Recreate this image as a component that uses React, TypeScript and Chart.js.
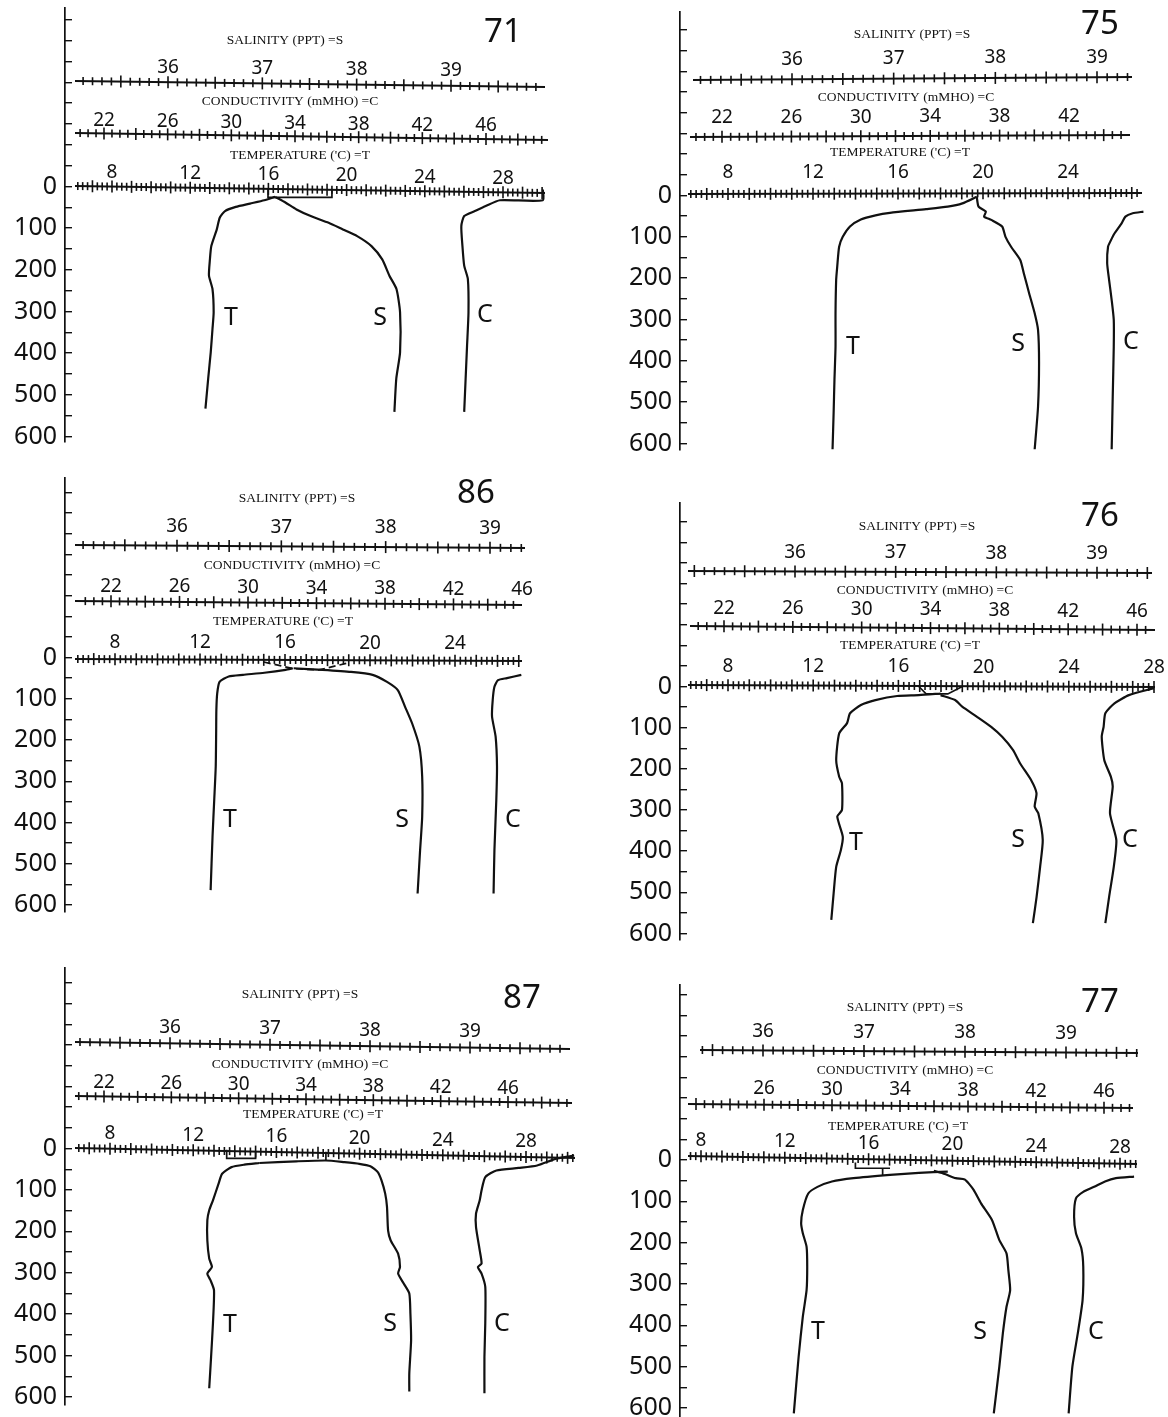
import React, { useEffect, useRef } from "react";
import { Chart, registerables } from "chart.js";
Chart.register(...registerables);

type Pt = [number, number];

// ===== DATA: each point is [value on its scale, depth] =====
// Station 71
const P71_T: Pt[] = [[16.34,25],[15.79,33],[15.06,41],[14.33,49],[13.78,59],[13.51,75],[13.36,103],[13.08,143],[13.01,174],[12.96,214],[13.14,246],[13.2,302],[13.14,342],[13.05,398],[12.92,461],[12.78,533]];
const P71_T_SURF: Pt[] = [[15.98,6],[15.98,26],[19.25,26],[19.25,6]];
const P71_S: Pt[] = [[37.135,25],[37.248,39],[37.362,55],[37.513,71],[37.703,87],[37.854,103],[38.005,119],[38.157,143],[38.271,175],[38.347,214],[38.422,246],[38.46,302],[38.46,398],[38.42,461],[38.4,541]];
const P71_C: Pt[] = [[49.57,7],[49.57,33],[46.87,33],[45.98,47],[45.3,59],[44.63,71],[44.45,95],[44.52,143],[44.63,190],[44.86,222],[44.9,302],[44.81,382],[44.63,541]];
// Station 75
const P75_T: Pt[] = [[19.71,3],[19.03,19],[18.34,27],[17.32,33],[15.62,42],[14.94,48],[14.25,58],[13.74,75],[13.4,100],[13.23,124],[13.14,172],[13.09,204],[13.06,285],[13.06,366],[13.01,446],[12.97,527],[12.92,614]];
const P75_S: Pt[] = [[37.817,3],[37.835,27],[37.907,39],[37.889,51],[37.96,59],[38.067,75],[38.1,100],[38.155,124],[38.245,156],[38.28,188],[38.333,237],[38.387,285],[38.42,325],[38.43,406],[38.42,511],[38.387,614]];
const P75_C: Pt[] = [[46.29,39],[45.67,43],[45.25,51],[45.04,67],[44.62,92],[44.42,108],[44.25,124],[44.2,164],[44.31,204],[44.46,253],[44.58,301],[44.58,366],[44.52,487],[44.46,614]];
// Station 86
const P86_T: Pt[] = [[16.37,26],[16.03,30],[15.03,37],[14.02,42],[13.35,46],[12.92,59],[12.81,87],[12.77,127],[12.76,184],[12.74,265],[12.67,345],[12.59,434],[12.5,564]];
const P86_T_SURF: Pt[] = [[15.0,11],[16.4,27],[17.6,30],[18.9,14]];
const P86_S: Pt[] = [[37.118,26],[37.393,30],[37.668,35],[37.875,42],[38.013,59],[38.116,79],[38.185,119],[38.254,160],[38.323,216],[38.35,289],[38.35,386],[38.33,467],[38.306,572]];
const P86_C: Pt[] = [[45.96,42],[45.12,50],[44.6,55],[44.39,71],[44.29,103],[44.25,143],[44.46,192],[44.54,265],[44.5,345],[44.39,467],[44.34,572]];
// Station 76
const P76_T: Pt[] = [[17.98,17],[16.96,21],[15.94,23],[14.92,33],[14.24,45],[13.73,65],[13.59,89],[13.22,114],[13.08,179],[13.22,219],[13.35,235],[13.35,300],[13.13,316],[13.39,365],[13.3,397],[13.08,438],[12.96,502],[12.85,567]];
const P76_T_SURF: Pt[] = [[16.96,0],[17.3,18],[18.32,18],[19.0,0]];
const P76_S: Pt[] = [[37.446,21],[37.59,33],[37.661,49],[37.805,73],[37.949,98],[38.058,122],[38.165,154],[38.237,187],[38.345,227],[38.399,259],[38.381,292],[38.417,308],[38.461,373],[38.435,438],[38.4,511],[38.363,575]];
const P76_C: Pt[] = [[47.0,4],[45.53,21],[44.69,41],[44.16,65],[44.06,98],[43.95,122],[44.1,179],[44.48,219],[44.59,243],[44.43,308],[44.8,373],[44.65,438],[44.38,511],[44.16,575]];
// Station 87
const P87_T: Pt[] = [[15.18,35],[14.46,39],[13.84,45],[13.39,61],[13.22,85],[12.95,125],[12.77,149],[12.68,173],[12.68,222],[12.77,266],[12.9,286],[12.68,302],[12.83,318],[13.0,342],[12.95,422],[12.86,503],[12.77,579]];
const P87_T_SURF: Pt[] = [[13.61,3],[13.61,24],[15.0,24],[15.0,8]];
const P87_T_SURF2: Pt[] = [[18.38,8],[18.38,28]];
const P87_S: Pt[] = [[36.893,35],[37.263,31],[37.559,29],[37.744,33],[37.893,37],[38.004,43],[38.078,57],[38.115,77],[38.152,109],[38.17,141],[38.181,198],[38.207,222],[38.281,254],[38.3,286],[38.281,302],[38.337,326],[38.393,350],[38.404,398],[38.411,463],[38.393,543],[38.393,587]];
const P87_C: Pt[] = [[49.93,17],[48.83,25],[47.73,41],[46.63,47],[45.31,53],[44.65,69],[44.43,101],[44.32,125],[44.1,157],[44.1,190],[44.32,246],[44.43,278],[44.21,286],[44.43,302],[44.65,334],[44.65,422],[44.6,503],[44.6,591]];
// Station 77
const P77_T: Pt[] = [[19.78,28],[18.4,31],[17.02,36],[15.28,44],[14.25,52],[13.56,65],[13.12,81],[12.86,121],[12.78,153],[12.86,177],[13.04,210],[13.07,258],[13.04,315],[12.86,379],[12.66,476],[12.43,613]];
const P77_T_SURF: Pt[] = [[15.37,6],[15.37,20],[17.02,20]];
const P77_T_SURF2: Pt[] = [[16.67,20],[16.67,37]];
const P77_S: Pt[] = [[37.691,26],[37.8,34],[37.908,44],[37.997,47],[38.034,56],[38.087,73],[38.159,105],[38.267,145],[38.34,194],[38.411,226],[38.429,266],[38.447,315],[38.411,355],[38.375,419],[38.34,500],[38.285,613]];
const P77_C: Pt[] = [[47.77,40],[46.7,44],[46.06,52],[45.42,65],[44.78,77],[44.35,93],[44.24,137],[44.35,177],[44.67,214],[44.78,258],[44.74,339],[44.46,419],[44.14,500],[43.92,613]];

// ===== TICK LABELS =====
const S_TICKS = [36, 37, 38, 39];
const C_TICKS = [22, 26, 30, 34, 38, 42, 46];
const C_TICKS_75 = [22, 26, 30, 34, 38, 42];
const C_TICKS_77 = [26, 30, 34, 38, 42, 46];
const T_TICKS = [8, 12, 16, 20, 24, 28];
const T_TICKS_24 = [8, 12, 16, 20, 24];
const DEPTH_STEP = 50;
const DEPTH_LABEL_STEP = 100;

const S_TITLE = "SALINITY (PPT) =S";
const C_TITLE = "CONDUCTIVITY (mMHO) =C";
const T_TITLE = "TEMPERATURE ('C) =T";

// ===== LAYOUT (page pixels) =====
const PANELS: any[] = [
  {
    id: "71", axisX: 65, axisTop: 8, axisBottom: 442, y0: 186.5, y600: 436.5, canvasLeft: 0, canvasWidth: 580, num: [503, 33],
    s: { a: [36, 168, 39, 451], x0: 75, x1: 545, y0: 81, y1: 87, labelY: 66, labels: S_TICKS, tx: 285, ty: 40 },
    c: { a: [22, 104, 46, 486], x0: 75, x1: 548, y0: 133, y1: 140, labelY: 120, labels: C_TICKS, tx: 290, ty: 101 },
    t: { a: [8, 112, 28, 503], x0: 75, x1: 545, y0: 186, y1: 193, labelY: 172, labels: T_TICKS, tx: 300, ty: 155 },
    letters: { T: [231, 318], S: [380, 318], C: [485, 315] },
    T: P71_T, S: P71_S, C: P71_C, extraT: [P71_T_SURF],
  },
  {
    id: "75", axisX: 680, axisTop: 12, axisBottom: 450, y0: 195.5, y600: 443.5, canvasLeft: 615, canvasWidth: 553, num: [1100, 25],
    s: { a: [36, 792, 39, 1097], x0: 693, x1: 1132, y0: 80, y1: 77, labelY: 60, labels: S_TICKS, tx: 912, ty: 34 },
    c: { a: [22, 722, 42, 1069], x0: 690, x1: 1130, y0: 137, y1: 135, labelY: 118, labels: C_TICKS_75, tx: 906, ty: 97 },
    t: { a: [8, 728, 24, 1068], x0: 688, x1: 1142, y0: 194, y1: 193, labelY: 173, labels: T_TICKS_24, tx: 900, ty: 152 },
    letters: { T: [853, 347], S: [1018, 344], C: [1131, 342] },
    T: P75_T, S: P75_S, C: P75_C, extraT: [],
  },
  {
    id: "86", axisX: 65, axisTop: 478, axisBottom: 912, y0: 657.5, y600: 905, canvasLeft: 0, canvasWidth: 580, num: [476, 494],
    s: { a: [36, 177, 39, 490], x0: 75, x1: 525, y0: 545, y1: 548, labelY: 526, labels: S_TICKS, tx: 297, ty: 498 },
    c: { a: [22, 111, 46, 522], x0: 75, x1: 522, y0: 601, y1: 605, labelY: 586, labels: C_TICKS, tx: 292, ty: 565 },
    t: { a: [8, 115, 24, 455], x0: 75, x1: 522, y0: 659, y1: 661, labelY: 642, labels: T_TICKS_24, tx: 283, ty: 621 },
    letters: { T: [230, 820], S: [402, 820], C: [513, 820] },
    T: P86_T, S: P86_S, C: P86_C, extraT: [P86_T_SURF], dashT: true,
  },
  {
    id: "76", axisX: 680, axisTop: 503, axisBottom: 940, y0: 686.5, y600: 933.5, canvasLeft: 615, canvasWidth: 553, num: [1100, 517],
    s: { a: [36, 795, 39, 1097], x0: 688, x1: 1152, y0: 571, y1: 573, labelY: 552, labels: S_TICKS, tx: 917, ty: 526 },
    c: { a: [22, 724, 46, 1137], x0: 690, x1: 1155, y0: 626, y1: 630, labelY: 608, labels: C_TICKS, tx: 925, ty: 590 },
    t: { a: [8, 728, 28, 1154], x0: 688, x1: 1155, y0: 685, y1: 687, labelY: 666, labels: T_TICKS, tx: 910, ty: 645 },
    letters: { T: [856, 843], S: [1018, 840], C: [1130, 840] },
    T: P76_T, S: P76_S, C: P76_C, extraT: [P76_T_SURF],
  },
  {
    id: "87", axisX: 65, axisTop: 968, axisBottom: 1405, y0: 1148.5, y600: 1397, canvasLeft: 0, canvasWidth: 580, num: [522, 999],
    s: { a: [36, 170, 39, 470], x0: 75, x1: 570, y0: 1042, y1: 1049, labelY: 1026, labels: S_TICKS, tx: 300, ty: 994 },
    c: { a: [22, 104, 46, 508], x0: 75, x1: 572, y0: 1096, y1: 1103, labelY: 1082, labels: C_TICKS, tx: 300, ty: 1064 },
    t: { a: [8, 110, 28, 526], x0: 75, x1: 575, y0: 1148, y1: 1158, labelY: 1133, labels: T_TICKS, tx: 313, ty: 1114 },
    letters: { T: [230, 1325], S: [390, 1324], C: [502, 1324] },
    T: P87_T, S: P87_S, C: P87_C, extraT: [P87_T_SURF, P87_T_SURF2],
  },
  {
    id: "77", axisX: 680, axisTop: 985, axisBottom: 1417, y0: 1160, y600: 1408, canvasLeft: 615, canvasWidth: 553, num: [1100, 1003],
    s: { a: [36, 763, 39, 1066], x0: 700, x1: 1138, y0: 1050, y1: 1053, labelY: 1031, labels: S_TICKS, tx: 905, ty: 1007 },
    c: { a: [26, 764, 46, 1104], x0: 688, x1: 1133, y0: 1104, y1: 1108, labelY: 1088, labels: C_TICKS_77, tx: 905, ty: 1070 },
    t: { a: [8, 701, 28, 1120], x0: 688, x1: 1137, y0: 1156, y1: 1164, labelY: 1140, labels: T_TICKS, tx: 898, ty: 1126 },
    letters: { T: [818, 1332], S: [980, 1332], C: [1096, 1332] },
    T: P77_T, S: P77_S, C: P77_C, extraT: [P77_T_SURF, P77_T_SURF2],
  },
];

const PAD = 20;
const INK = "#111";

function Panel({ p }: { p: any }) {
  const ref = useRef<HTMLCanvasElement | null>(null);
  const top = p.axisTop - PAD;
  const height = p.axisBottom - p.axisTop + 2 * PAD;

  useEffect(() => {
    if (!ref.current) return;
    const k = (p.y600 - p.y0) / 600;
    const yMin = (p.axisTop - p.y0) / k;
    const yMax = (p.axisBottom - p.y0) / k;
    const L = p.axisX;
    const R = p.canvasLeft + p.canvasWidth;
    const range = (a: number[]) => {
      const ppu = (a[3] - a[1]) / (a[2] - a[0]);
      return { min: a[0] - (a[1] - L) / ppu, max: a[0] + (R - a[1]) / ppu };
    };
    const toXY = (arr: Pt[]) => arr.map(([x, y]) => ({ x, y }));
    const mk = (data: Pt[], axis: string, extra: any = {}) => ({
      data: toXY(data), xAxisID: axis, yAxisID: "y", borderColor: INK, borderWidth: 2.2,
      pointRadius: 0, tension: 0.2, fill: false, ...extra,
    });
    const datasets: any[] = [
      mk(p.T, "xT"), mk(p.S, "xS"), mk(p.C, "xC"),
      ...p.extraT.map((d: Pt[]) => mk(d, "xT", { tension: 0, borderWidth: 1.7, borderDash: p.dashT ? [7, 4] : [] })),
    ];
    const ox = p.canvasLeft;
    const oy = top;
    const lines = [
      { key: "xS", d: p.s, title: S_TITLE, minor: 0.1, major: 0.5 },
      { key: "xC", d: p.c, title: C_TITLE, minor: 0.5, major: 2 },
      { key: "xT", d: p.t, title: T_TITLE, minor: 0.25, major: 1 },
    ];
    const decor = {
      id: "decor",
      beforeDatasetsDraw(chart: any) {
        const ctx = chart.ctx;
        ctx.save();
        for (const ln of lines) {
          const sc = chart.scales[ln.key];
          const d = ln.d;
          const X0 = d.x0 - ox, X1 = d.x1 - ox, Y0 = d.y0 - oy, Y1 = d.y1 - oy;
          const yAt = (x: number) => Y0 + ((x - X0) / (X1 - X0)) * (Y1 - Y0);
          ctx.strokeStyle = INK;
          ctx.lineWidth = 2;
          ctx.beginPath();
          ctx.moveTo(X0, Y0);
          ctx.lineTo(X1, Y1);
          ctx.stroke();
          const vStart = sc.getValueForPixel(X0 + 2);
          const vEnd = sc.getValueForPixel(X1 - 1);
          const i0 = Math.ceil(vStart / ln.minor);
          const i1 = Math.floor(vEnd / ln.minor);
          ctx.lineWidth = 1.6;
          for (let i = i0; i <= i1; i++) {
            const v = i * ln.minor;
            const r = v / ln.major;
            const isMajor = Math.abs(r - Math.round(r)) < 1e-6;
            const len = isMajor ? 6 : 4;
            const x = sc.getPixelForValue(v);
            const y = yAt(x);
            ctx.beginPath();
            ctx.moveTo(x, y - len);
            ctx.lineTo(x, y + len);
            ctx.stroke();
          }
          ctx.fillStyle = INK;
          ctx.textAlign = "center";
          ctx.textBaseline = "middle";
          ctx.font = '19px "Noto Sans"';
          const dy = d.y0 - d.labelY;
          for (const v of d.labels) {
            const x = sc.getPixelForValue(v);
            ctx.fillText(String(v), x, yAt(x) - dy);
          }
          ctx.font = '13.5px "Liberation Serif"';
          ctx.fillText(ln.title, d.tx - ox, d.ty - oy);
        }
        ctx.font = '33px "Noto Sans"';
        ctx.fillText(p.id, p.num[0] - ox, p.num[1] - oy);
        ctx.restore();
      },
      afterDatasetsDraw(chart: any) {
        const ctx = chart.ctx;
        ctx.save();
        ctx.fillStyle = INK;
        ctx.textAlign = "center";
        ctx.textBaseline = "middle";
        ctx.font = '25px "Noto Sans"';
        for (const key of ["T", "S", "C"]) {
          const pos = p.letters[key];
          ctx.fillText(key, pos[0] - ox, pos[1] - oy);
        }
        ctx.restore();
      },
    };
    const hidden = (a: number[]) => ({ type: "linear", display: false, ...range(a) });
    const chart = new Chart(ref.current, {
      type: "line",
      data: { datasets },
      options: {
        animation: false,
        responsive: false,
        events: [],
        layout: { padding: { top: PAD, bottom: PAD, left: 0, right: 0 } },
        plugins: { legend: { display: false }, tooltip: { enabled: false } },
        scales: {
          xT: hidden(p.t.a),
          xS: hidden(p.s.a),
          xC: hidden(p.c.a),
          y: {
            type: "linear",
            position: "left",
            reverse: true,
            min: yMin,
            max: yMax,
            afterBuildTicks: (s: any) => {
              const out: any[] = [];
              const first = Math.ceil(s.min / DEPTH_STEP);
              const last = Math.floor(s.max / DEPTH_STEP);
              for (let i = first; i <= last; i++) out.push({ value: i * DEPTH_STEP });
              s.ticks = out;
            },
            afterFit: (s: any) => {
              s.width = p.axisX - p.canvasLeft;
              s.paddingTop = 0;
              s.paddingBottom = 0;
            },
            ticks: {
              stepSize: DEPTH_STEP,
              autoSkip: false,
              includeBounds: false,
              padding: 15,
              color: INK,
              font: { family: "Noto Sans", size: 25 },
              callback: (v: any) => {
                const n = Number(v);
                const r = n / DEPTH_LABEL_STEP;
                return n >= -0.001 && Math.abs(r - Math.round(r)) < 1e-6 ? String(Math.round(n)) : "";
              },
            },
            grid: { drawOnChartArea: false, drawTicks: true, tickLength: -7, color: INK, lineWidth: 1.4 },
            border: { display: true, color: INK, width: 1.7 },
          },
        },
      } as any,
      plugins: [decor],
    } as any);
    return () => chart.destroy();
  }, []);

  return (
    <canvas
      ref={ref}
      width={p.canvasWidth}
      height={height}
      style={{ position: "absolute", left: p.canvasLeft, top, width: p.canvasWidth, height }}
    />
  );
}

export default function App() {
  return (
    <div style={{ position: "absolute", left: 0, top: 0, width: 1168, height: 1417, background: "#fff", overflow: "hidden" }}>
      {PANELS.map((p) => (
        <Panel key={p.id} p={p} />
      ))}
    </div>
  );
}
